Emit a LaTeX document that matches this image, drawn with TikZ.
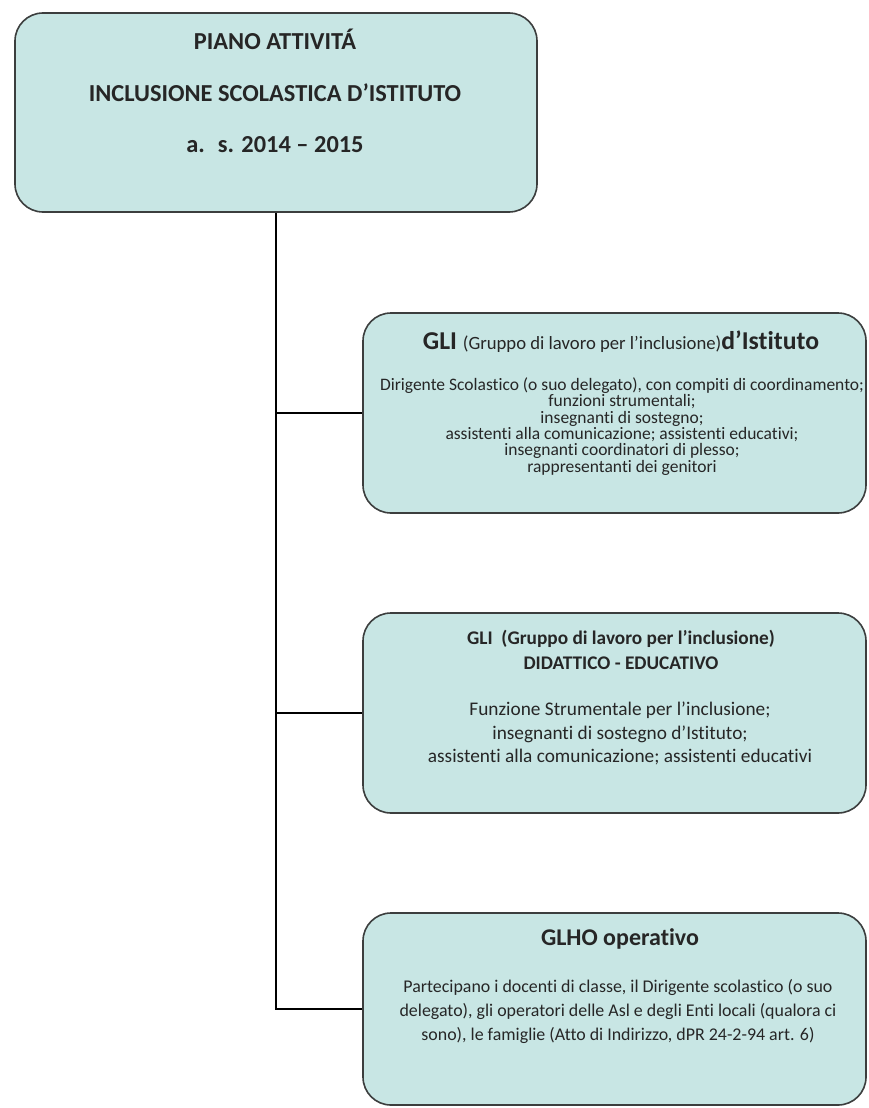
\documentclass[tikz,border=0pt]{standalone}
\usepackage{fontspec}
\setmainfont{Carlito}[Ligatures=NoCommon]
\definecolor{boxfill}{RGB}{200,230,228}
\definecolor{boxedge}{RGB}{60,62,62}
\begin{document}
\begin{tikzpicture}[x=1pt,y=-1pt,
  box/.style={draw=boxedge,line width=1.6pt,fill=boxfill,rounded corners=28pt,inner sep=0pt},
  conn/.style={draw=black,line width=2.8pt},
  txt/.style={inner sep=0pt,align=center,text=black!85}]
\useasboundingbox[fill=white] (0,0) rectangle (868,1108);
% boxes
\node[box,minimum width=522pt,minimum height=199pt] (top) at (276,112.5) {};
\node[box,minimum width=503pt,minimum height=200pt] (b1) at (614.5,413) {};
\node[box,minimum width=503pt,minimum height=200pt] (b2) at (614.5,713) {};
\node[box,minimum width=503pt,minimum height=192pt] (b3) at (614.5,1009) {};
% connectors
\draw[conn] (top.south) -- (top.south |- b3.west) -- (b3.west);
\draw[conn] (top.south |- b1.west) -- (b1.west);
\draw[conn] (top.south |- b2.west) -- (b2.west);
% top text
\node[txt,font=\fontsize{24.4}{51.5}\selectfont\bfseries] (ttop) at (275,91)
  {PIANO ATTIVITÁ\\INCLUSIONE SCOLASTICA D’ISTITUTO\\a.~ s. 2014 – 2015};
% box 1
\node[txt] (t1) at (621,342)
  {{\fontsize{25.7}{28}\selectfont\bfseries GLI }{\fontsize{18.7}{20}\selectfont(Gruppo di lavoro per l’inclusione)}{\fontsize{25.7}{28}\selectfont\bfseries d’Istituto}};
\node[txt,font=\fontsize{17.5}{16.3}\selectfont] (d1) at (622,426.5)
  {Dirigente Scolastico (o suo delegato), con compiti di coordinamento;\\
   funzioni strumentali;\\insegnanti di sostegno;\\
   assistenti alla comunicazione; assistenti educativi;\\
   insegnanti coordinatori di plesso;\\rappresentanti dei genitori};
% box 2
\node[txt,font=\fontsize{19.3}{25}\selectfont\bfseries] (t2) at (621,649.5)
  {GLI~ (Gruppo di lavoro per l’inclusione)\\DIDATTICO - EDUCATIVO};
\node[txt,font=\fontsize{19.3}{23.5}\selectfont] (d2) at (620,733.5)
  {Funzione Strumentale per l’inclusione;\\insegnanti di sostegno d’Istituto;\\
   assistenti alla comunicazione; assistenti educativi};
% box 3
\node[txt,font=\fontsize{24}{26}\selectfont\bfseries] (t3) at (620,939) {GLHO operativo};
\node[txt,font=\fontsize{17.9}{24}\selectfont] (d3) at (618,1011)
  {Partecipano i docenti di classe, il Dirigente scolastico (o suo\\
   delegato), gli operatori delle Asl e degli Enti locali (qualora ci\\
   sono), le famiglie (Atto di Indirizzo, dPR 24-2-94 art. 6)};
\end{tikzpicture}
\end{document}
